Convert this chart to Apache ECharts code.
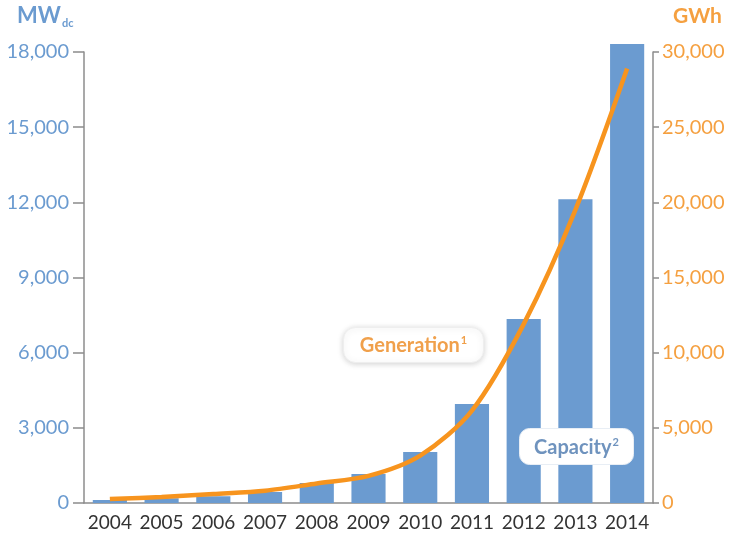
<!DOCTYPE html>
<html>
<head>
<meta charset="utf-8">
<script src="https://cdn.jsdelivr.net/npm/echarts@6/dist/echarts.min.js"></script>
<style>
  html, body { margin: 0; padding: 0; background: #fff; }
  #chart { width: 734px; height: 535px; }
</style>
</head>
<body>
<div id="chart"></div>
<script>
const years = ['2004', '2005', '2006', '2007', '2008', '2009', '2010', '2011', '2012', '2013', '2014']
// installed capacity, MWdc
const capacity = [120, 190, 270, 440, 800, 1160, 2040, 3950, 7340, 12120, 18320]
// generation, GWh
const generation = [270, 400, 600, 820, 1300, 1800, 3150, 6150, 11900, 19500, 28900]

const blue = '#6b9bd0'
const orange = '#f7941e'
const axisGray = '#8c8c8c'
const font = 'Lato'

const chart = echarts.init(document.getElementById('chart'))
chart.setOption({
  animation: false,
  grid: { left: 84, right: 81, top: 52, bottom: 32 },
  xAxis: {
    type: 'category',
    data: years,
    axisLine: { lineStyle: { color: axisGray, width: 1.5 } },
    axisTick: { show: false },
    axisLabel: { color: '#333', fontSize: 19, fontFamily: font, margin: 10, interval: 0 }
  },
  yAxis: [
    {
      type: 'value', min: 0, max: 18000, interval: 3000,
      splitLine: { show: false },
      axisLine: { show: true, lineStyle: { color: axisGray, width: 1.5 } },
      axisTick: { show: true, length: 11, lineStyle: { color: axisGray, width: 1.5 } },
      axisLabel: {
        color: blue, fontSize: 20, fontFamily: font, margin: 15,
        formatter: v => v.toLocaleString('en-US')
      }
    },
    {
      type: 'value', min: 0, max: 30000, interval: 5000,
      splitLine: { show: false },
      axisLine: { show: true, lineStyle: { color: axisGray, width: 1.5 } },
      axisTick: { show: true, length: 6, lineStyle: { color: axisGray, width: 1.5 } },
      axisLabel: {
        color: '#f5a040', fontSize: 20, fontFamily: font, margin: 9,
        formatter: v => v.toLocaleString('en-US')
      }
    }
  ],
  series: [
    {
      name: 'Capacity',
      type: 'bar',
      data: capacity,
      barWidth: '66%',
      clip: false,
      itemStyle: { color: blue }
    },
    {
      name: 'Generation',
      type: 'line',
      yAxisIndex: 1,
      data: generation,
      smooth: 0.3,
      showSymbol: false,
      clip: false,
      lineStyle: { color: orange, width: 4.5 },
      z: 5
    }
  ],
  graphic: [
    {
      type: 'text', left: 17, top: 5,
      style: {
        text: '{a|MW}{b|dc}',
        rich: {
          a: { fill: blue, fontSize: 22, fontWeight: 'bold', fontFamily: font },
          b: { fill: blue, fontSize: 11, fontWeight: 'bold', fontFamily: font, padding: [14, 0, 0, 1] }
        }
      }
    },
    {
      type: 'text', left: 673, top: 6,
      style: { text: 'GWh', fill: '#f5a040', fontSize: 21, fontWeight: 'bold', fontFamily: font }
    },
    {
      type: 'group', left: 343, top: 327, z: 100,
      children: [
        {
          type: 'rect', z: 100, shape: { x: 0, y: 0, width: 140, height: 35, r: 12 },
          style: { fill: '#fff', stroke: '#eeeeee', lineWidth: 1, shadowBlur: 6, shadowColor: 'rgba(0,0,0,0.18)', shadowOffsetY: 1 }
        },
        {
          type: 'text', z: 101, x: 70, y: 18,
          style: {
            text: '{a|Generation}{b|1}', align: 'center', verticalAlign: 'middle',
            rich: {
              a: { fill: '#f0a04b', fontSize: 20, fontWeight: 'bold', fontFamily: font },
              b: { fill: '#f0a04b', fontSize: 11, fontWeight: 'bold', fontFamily: font, padding: [0, 0, 11, 1] }
            }
          }
        }
      ]
    },
    {
      type: 'group', left: 519, top: 428, z: 100,
      children: [
        {
          type: 'rect', z: 100, shape: { x: 0, y: 0, width: 114, height: 36, r: 10 },
          style: { fill: '#fff', stroke: '#e8eef5', lineWidth: 1 }
        },
        {
          type: 'text', z: 101, x: 57, y: 19,
          style: {
            text: '{a|Capacity}{b|2}', align: 'center', verticalAlign: 'middle',
            rich: {
              a: { fill: '#6f93be', fontSize: 20, fontWeight: 'bold', fontFamily: font },
              b: { fill: '#6f93be', fontSize: 11, fontWeight: 'bold', fontFamily: font, padding: [0, 0, 11, 1] }
            }
          }
        }
      ]
    }
  ]
})
</script>
</body>
</html>
